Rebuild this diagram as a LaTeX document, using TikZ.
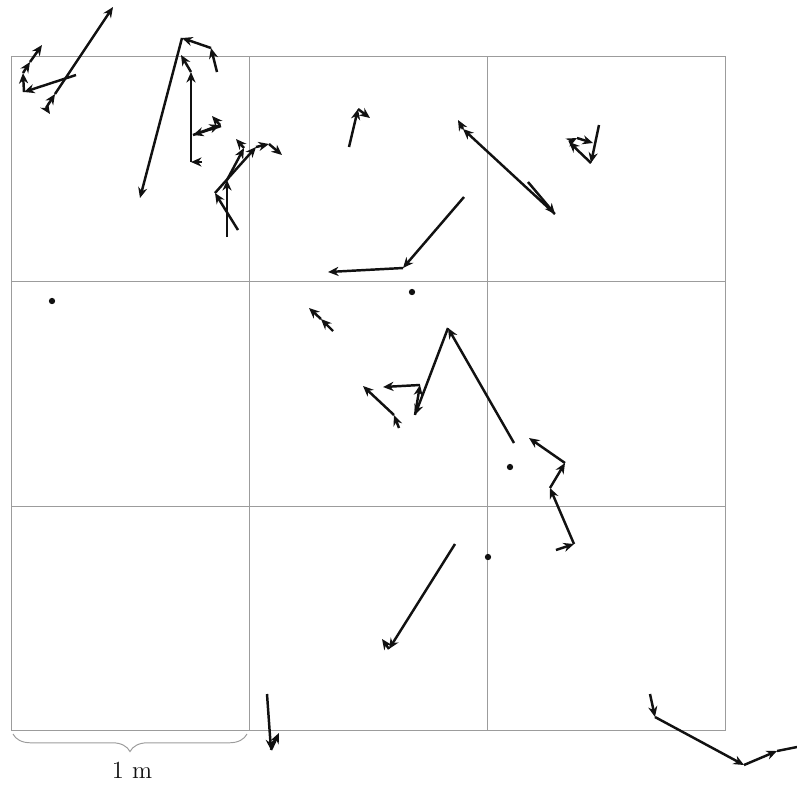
\documentclass[tikz,border=0pt]{standalone}
\usepackage{tikz}
\usetikzlibrary{arrows.meta,decorations.pathreplacing}
\usepackage{xcolor}
\definecolor{ink}{HTML}{111111}
\definecolor{rule}{HTML}{9C9C9C}
\tikzset{
  >={Stealth[length=6pt,width=5.2pt]},
  gridline/.style={draw=rule,line width=0.55pt},
  walk/.style={->,color=ink,line width=1.4pt},
  origin/.style={circle,fill=ink,inner sep=0pt,minimum size=3.6pt},
  scalebrace/.style={draw=rule,line width=0.55pt,decorate,decoration={brace,mirror,amplitude=10pt}},
  scalelabel/.style={font=\fontsize{14}{17}\selectfont,text=ink,inner sep=0pt},
}

\begin{document}
\begin{tikzpicture}[x=0.2mm,y=-0.2mm]
\useasboundingbox (0,0) rectangle (797,787);

% 3 x 3 grid
\draw[gridline] (11,56) rectangle (725,730);
\draw[gridline] (249,56) -- (249,730) (487,56) -- (487,730);
\draw[gridline] (11,281) -- (725,281) (11,506) -- (725,506);

% particles that stay put
\node[origin] (o1) at (52,301) {};
\node[origin] (o2) at (412,292) {};
\node[origin] (o3) at (510,467) {};
\node[origin] (o4) at (488,557) {};

% top-left cell
\path[walk] (76,75) edge (24,92) (24,92) edge (23,73) (23,73) edge (30,62) (30,62) edge (42,45);
\path[walk] (46,108) edge (50,114) (46,108) edge (55,94) (55,94) edge (113,7);
\path[walk] (217,72) edge (211,48) (211,48) edge (182,38) (182,38) edge (140,198);
\path[walk] (202,162) edge (191,162) (191,162) edge (191,72) (191,72) edge (181,55);
\path[walk] (221,126) edge (193,135) (193,135) edge (220,125) (220,125) edge (212,116);
\path[walk] (227,237) edge (227,180) (227,180) edge (244,148) (244,148) edge (236,139);
\path[walk] (238,230) edge (215,193) (215,193) edge (256,147) (256,147) edge (269,144) (269,144) edge (282,155);

% top-middle and top-right cells
\path[walk] (349,147) edge (358,109) (358,109) edge (370,118);
\path[walk] (464,197) edge (403,268) (403,268) edge (328,272);
\path[walk] (528,182) edge (555,214) (555,214) edge (463,129) (463,129) edge (458,120);
\path[walk] (599,125) edge (591,163) (591,163) edge (569,142) (569,142) edge (577,138) (577,138) edge (593,143);

% middle row
\path[walk] (333,331) edge (321,319) (321,319) edge (309,308);
\path[walk] (514,443) edge (448,328) (448,328) edge (415,415) (415,415) edge (420,385) (420,385) edge (383,387);
\path[walk] (399,428) edge (394,415) (394,415) edge (363,386);
\path[walk] (556,550) edge (574,544) (574,544) edge (550,488) (550,488) edge (565,463) (565,463) edge (529,438);

% bottom row
\path[walk] (455,544) edge (389,649) (389,649) edge (382,639);
\path[walk] (267,694) edge (271,750) (271,750) edge (279,733);
\path[walk] (650,694) edge (655,717) (655,717) edge (744,765) (744,765) edge (777,751) (777,751) edge (812,744);

% scale
\coordinate (bl) at (13,734);
\coordinate (br) at (247,734);
\draw[scalebrace] (bl) -- (br);
\node[scalelabel] (unit) at (132,770) {1 m};

\end{tikzpicture}
\end{document}
